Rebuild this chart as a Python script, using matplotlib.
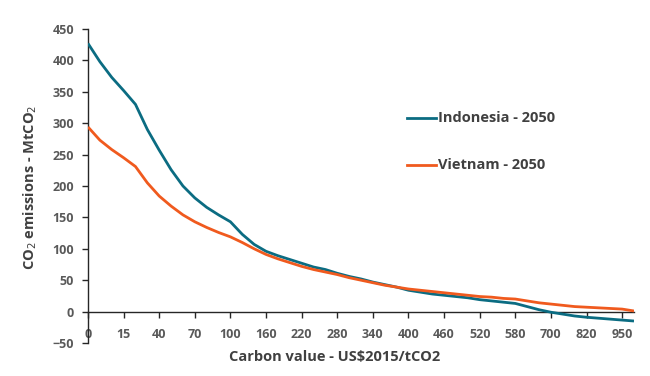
import matplotlib
matplotlib.use("Agg")
import matplotlib.pyplot as plt
import numpy as np

carbon_values = [0, 5, 10, 15, 20, 30, 40, 50, 60, 70, 80, 90, 100,
                 120, 140, 160, 180, 200, 220, 240, 260, 280, 300, 320, 340,
                 360, 380, 400, 420, 440, 460, 480, 500, 520, 540, 560, 580,
                 620, 660, 700, 740, 780, 820, 860, 900, 950, 1000]

indonesia_2050 = [427, 398, 373, 352, 330, 290, 257, 226, 200, 181, 166, 154, 143,
                  123, 107, 96, 89, 83, 77, 71, 67, 61, 56, 52, 47,
                  43, 39, 34, 31, 28, 26, 24, 22, 19, 17, 15, 13,
                  8, 3, -1, -4, -7, -9, -10.5, -12, -13.5, -15]

vietnam_2050 = [294, 273, 258, 245, 231, 205, 184, 168, 154, 143, 134, 126, 119,
                110, 100, 91, 84, 78, 72, 67, 63, 59, 54, 50, 46,
                42, 39, 36, 34, 32, 30, 28, 26, 24, 23, 21, 20,
                17, 14, 12, 10, 8, 7, 6, 5, 4, 1]

tick_labels = ["0", "15", "40", "70", "100", "160", "220", "280", "340",
               "400", "460", "520", "580", "700", "820", "950"]

BLUE = "#0B6C82"
ORANGE = "#F05A1E"
GRAY = "#595959"
DARK = "#404040"
FONT = "Open Sans"

fig = plt.figure(figsize=(6.5, 3.76), dpi=100)
ax = fig.add_axes([88/650, 1-343/376, (634-88)/650, (343-29)/376])

x = np.arange(len(carbon_values))
ax.plot(x, indonesia_2050, color=BLUE, lw=2.0, solid_capstyle="butt", zorder=3)
ax.plot(x, vietnam_2050, color=ORANGE, lw=2.0, solid_capstyle="butt", zorder=3)

ax.set_xlim(0, len(carbon_values) - 1)
ax.set_ylim(-50, 450)

for s in ["top", "right"]:
    ax.spines[s].set_visible(False)
ax.spines["bottom"].set_position(("data", 0))
ax.spines["left"].set_color("#262626")
ax.spines["bottom"].set_color("#262626")
ax.spines["left"].set_linewidth(1.0)
ax.spines["bottom"].set_linewidth(1.0)

tick_pos = [carbon_values.index(int(t)) for t in tick_labels]
ax.set_xticks(tick_pos)
ax.set_xticklabels(tick_labels)
ax.set_yticks(np.arange(-50, 451, 50))
ax.tick_params(axis="x", direction="out", length=4, width=1, color="#262626",
               pad=8, labelsize=9, labelcolor=GRAY)
ax.tick_params(axis="y", direction="out", length=4, width=1, color="#262626",
               pad=6, labelsize=9, labelcolor=GRAY)
for lab in ax.get_xticklabels() + ax.get_yticklabels():
    lab.set_fontfamily(FONT)
    lab.set_fontweight("bold")

fig.text(335/650, 1-357/376, "Carbon value - US$2015/tCO2", ha="center", va="center",
         fontsize=10.5, fontweight="bold", color=DARK, family=FONT)
fig.text(30/650, 1-187/376, "CO$_2$ emissions - MtCO$_2$", ha="center", va="center",
         rotation=90, fontsize=10.5, fontweight="bold", color=DARK, family=FONT)

# legend
for y_px, col, txt in [(118, BLUE, "Indonesia - 2050"), (165, ORANGE, "Vietnam - 2050")]:
    yf = 1 - y_px/376
    fig.add_artist(plt.Line2D([407/650, 436/650], [yf, yf], color=col, lw=2.0,
                              transform=fig.transFigure))
    fig.text(438/650, yf, txt, ha="left", va="center", fontsize=10.5,
             fontweight="bold", color=DARK, family=FONT)

fig.savefig("out.png", dpi=100)
